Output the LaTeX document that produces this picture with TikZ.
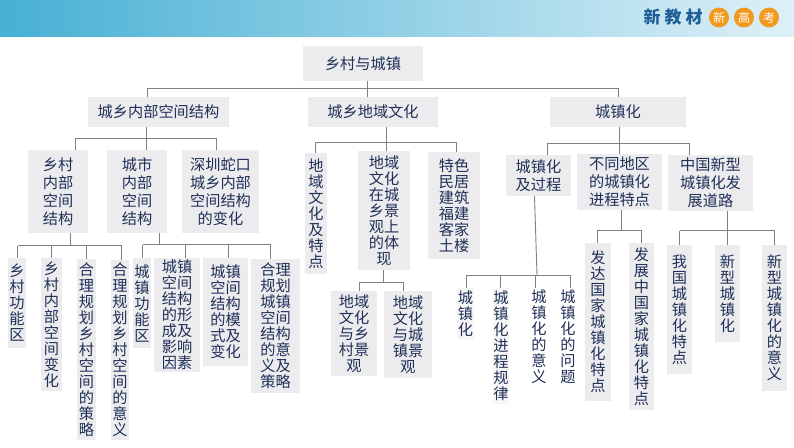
\documentclass[tikz,border=0pt]{standalone}
\usepackage{fontspec}
\setmainfont{Noto Sans CJK SC}
\definecolor{boxg}{HTML}{ECECEE}
\definecolor{boxl}{HTML}{F6F6F7}
\definecolor{txt}{HTML}{1F2F57}
\definecolor{ln}{HTML}{808080}
\definecolor{brand}{HTML}{1F5E96}
\definecolor{org}{HTML}{F39A1E}
\tikzset{
  box/.style={fill=boxg,draw=none,inner sep=0pt,align=center,text=txt,font=\fontsize{15.2}{16}\selectfont},
  wide/.style={font=\fontsize{15.2}{18}\selectfont},
  pale/.style={fill=boxl},
  blank/.style={fill=none},
  conn/.style={draw=ln,line width=0.9pt},
  badge/.style={circle,fill=org,text=white,minimum size=20pt,inner sep=0pt,font=\fontsize{12}{12}\selectfont},
}
% style, name, x1,y1,x2,y2, text (pixel coordinates)
\newcommand{\bx}[7][]{\node[box,#1,minimum width={(#5-#3)*1pt},minimum height={(#6-#4)*1pt},anchor=center] (#2) at ({(#3+#5)/2},{(#4+#6)/2}) {#7};}
% parent, stem x, bus y, first x, last x, list of child/x
\newcommand{\tree}[6]{%
  \draw[conn] (#1.south -| #2,0) -- (#2,#3);
  \draw[conn] (#4,#3) -- (#5,#3);
  \foreach \ch/\xx in {#6} {\draw[conn] (\xx,#3) -- (\ch.north -| \xx,0);}
}
\begin{document}
\begin{tikzpicture}[x=1pt,y=-1pt]
\useasboundingbox (0,0) rectangle (794,447);
\fill[white] (0,0) rectangle (794,447);
\path[left color={rgb,255:red,70;green,176;blue,212},right color={rgb,255:red,222;green,240;blue,247}] (0,0) rectangle (794,36);
\node[text=brand,font=\fontsize{17}{17}\selectfont\bfseries] (brandname) at (673,17) {新\kern4pt 教\kern4pt 材};
\node[badge] (b1) at (719,17.5) {新};
\node[badge] (b2) at (744,17.5) {高};
\node[badge] (b3) at (769,17.5) {考};

\bx{root}{303}{46}{423}{81}{乡村与城镇}
\bx{a}{88}{97}{229}{127}{城乡内部空间结构}
\bx{b}{308}{97}{438}{127}{城乡地域文化}
\bx{c}{550}{97}{686}{127}{城镇化}

\bx[wide]{a1}{28}{150}{88}{233}{乡村\\内部\\空间\\结构}
\bx[wide]{a2}{107}{150}{167}{233}{城市\\内部\\空间\\结构}
\bx[wide]{a3}{182}{150}{259}{233}{深圳蛇口\\城乡内部\\空间结构\\的变化}

\bx{b1x}{305}{153}{327}{274}{地\\域\\文\\化\\及\\特\\点}
\bx{b2x}{358}{151}{410}{270}{地域\\文化\\在城\\乡景\\观上\\的体\\现}
\bx{b3x}{428}{152}{480}{259}{特色\\民居\\建筑\\福建\\客家\\土楼}

\bx[wide]{c1}{506}{155}{571}{196}{城镇化\\及过程}
\bx[wide]{c2}{577}{154}{662}{210}{不同地区\\的城镇化\\进程特点}
\bx[wide]{c3}{668}{155}{753}{211}{中国新型\\城镇化发\\展道路}

\bx{a11}{8}{258}{26}{348}{乡\\村\\功\\能\\区}
\bx{a12}{41}{258}{62}{391}{乡\\村\\内\\部\\空\\间\\变\\化}
\bx{a13}{77}{259}{96}{440}{合\\理\\规\\划\\乡\\村\\空\\间\\的\\策\\略}
\bx{a14}{111}{260}{129}{440}{合\\理\\规\\划\\乡\\村\\空\\间\\的\\意\\义}
\bx{a21}{133}{258}{151}{348}{城\\镇\\功\\能\\区}
\bx{a22}{154}{258}{200}{372}{城镇\\空间\\结构\\的形\\成及\\影响\\因素}
\bx{a23}{203}{258}{248}{366}{城镇\\空间\\结构\\的模\\式及\\变化}
\bx{a24}{251}{259}{300}{393}{合理\\规划\\城镇\\空间\\结构\\的意\\义及\\策略}

\bx{b21}{331}{291}{377}{376}{地域\\文化\\与乡\\村景\\观}
\bx{b22}{384}{291}{432}{378}{地域\\文化\\与城\\镇景\\观}

\bx[pale]{c11}{457}{288}{474}{340}{城\\镇\\化}
\bx[pale]{c12}{493}{288}{509}{404}{城\\镇\\化\\进\\程\\规\\律}
\bx[blank]{c13}{531}{288}{547}{386}{城\\镇\\化\\的\\意\\义}
\bx[blank]{c14}{560}{288}{576}{386}{城\\镇\\化\\的\\问\\题}
\bx{c21}{585}{243}{611}{401}{发\\达\\国\\家\\城\\镇\\化\\特\\点}
\bx{c22}{629}{243}{654}{410}{发\\展\\中\\国\\家\\城\\镇\\化\\特\\点}
\bx{c31}{667}{245}{692}{374}{我\\国\\城\\镇\\化\\特\\点}
\bx{c32}{715}{245}{740}{342}{新\\型\\城\\镇\\化}
\bx{c33}{762}{245}{787}{391}{新\\型\\城\\镇\\化\\的\\意\\义}

\tree{root}{367.7}{88}{147}{618}{a/147,b/367.7,c/618}
\tree{a}{146}{138}{75}{216}{a1/75,a2/146,a3/216}
\tree{b}{386.5}{142}{315}{456}{b1x/315,b2x/386.5,b3x/456}
\tree{c}{619}{143}{547}{689}{c1/547,c2/619,c3/689}
\tree{a1}{70.7}{245.7}{17.5}{121.7}{a11/17.5,a12/51.7,a13/86.7,a14/121.7}
\tree{a2}{159}{244.5}{142.7}{270.7}{a21/142.7,a22/185,a23/228,a24/270.7}
\tree{b2x}{383}{282}{359}{403}{b21/359,b22/403}
\draw[conn] (c1.south -| 534.5,0) -- (537,275.5);
\draw[conn] (466,275.5) -- (570.5,275.5);
\foreach \ch/\xx in {c11/466,c12/500.7,c13/535.5,c14/570.5} {\draw[conn] (\xx,275.5) -- (\ch.north -| \xx,0);}
\tree{c2}{621.7}{230}{597.7}{641.7}{c21/597.7,c22/641.7}
\tree{c3}{727}{230.5}{679.5}{774.5}{c31/679.5,c32/727,c33/774.5}
\end{tikzpicture}
\end{document}
